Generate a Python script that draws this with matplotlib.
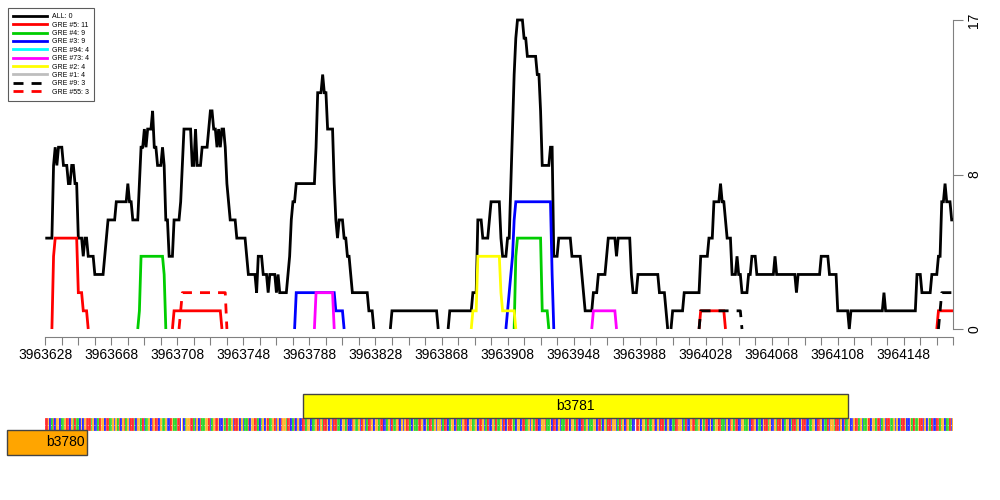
import numpy as np
import matplotlib
matplotlib.use("Agg")
import matplotlib.pyplot as plt
from matplotlib.patches import Rectangle
from matplotlib.lines import Line2D

plt.rcParams['font.family'] = ['Liberation Sans', 'DejaVu Sans']

# genome window
start_pos = 3963628
n_pos = 551          # offsets 0..550
label_step = 40
minor_step = 10

# site coverage tracks, run-length coded: value holds from start offset to next start
all_starts = [0, 5, 6, 7, 8, 11, 14, 16, 18, 20, 23, 24, 26, 30, 36, 37, 38, 43, 50, 51,
              53, 57, 58, 60, 61, 62, 65, 66, 68, 71, 72, 73, 75, 78, 82, 83, 84, 89, 91, 92,
              95, 99, 100, 102, 104, 105, 106, 107, 109, 110, 111, 112, 116, 122, 123, 128, 129, 132, 135, 136,
              140, 141, 142, 147, 148, 149, 150, 152, 164, 165, 168, 169, 171, 175, 176, 177, 178, 181, 183, 185,
              186, 196, 199, 200, 209, 210, 238, 239, 244, 245, 259, 262, 265, 269, 270, 276, 277, 280, 282, 283,
              284, 285, 286, 290, 292, 298, 300, 301, 306, 308, 311, 319, 325, 326, 327, 332, 335, 340, 341, 346,
              347, 355, 356, 359, 372, 376, 377, 378, 379, 380, 387, 397, 402, 405, 409, 410, 412, 413, 416, 419,
              420, 422, 426, 428, 431, 442, 443, 455, 456, 470, 475, 480, 487, 488, 508, 509, 528, 531, 537, 541,
              543, 545, 546, 549]
all_vals = [5, 9, 10, 9, 10, 9, 8, 9, 8, 5, 4, 5, 4, 3, 4, 5, 6, 7, 8, 7,
            6, 8, 10, 11, 10, 11, 12, 10, 9, 10, 9, 6, 4, 6, 7, 9, 11, 9, 11, 9,
            10, 11, 12, 11, 10, 11, 10, 11, 10, 8, 7, 6, 5, 4, 3, 2, 4, 3, 2, 3,
            2, 3, 2, 3, 4, 6, 7, 8, 10, 13, 14, 13, 11, 8, 6, 5, 6, 5, 4, 3,
            2, 1, 0, np.nan, 0, 1, 0, np.nan, 0, 1, 2, 6, 5, 6, 7, 5, 4, 5, 8, 11,
            14, 16, 17, 16, 15, 14, 12, 9, 10, 4, 5, 4, 3, 2, 1, 2, 3, 4, 5, 4,
            5, 3, 2, 3, 2, 1, 0, np.nan, 0, 1, 2, 4, 5, 7, 8, 7, 6, 5, 3, 4,
            3, 2, 3, 4, 3, 4, 3, 2, 3, 4, 3, 1, 0, 1, 2, 1, 3, 2, 3, 4,
            7, 8, 7, 6]

gre5_starts = [4, 5, 6, 20, 23, 26, 27, 77, 78, 107, 108, 396, 397, 412, 413, 540, 541]
gre5_vals = [0, 4, 5, 2, 1, 0, np.nan, 0, 1, 0, np.nan, 0, 1, 0, np.nan, 0, 1]

gre4_starts = [56, 57, 58, 72, 73, 74, 284, 285, 286, 301, 305, 306]
gre4_vals = [0, 1, 4, 3, 0, np.nan, 0, 4, 5, 1, 0, np.nan]

gre3_starts = [151, 152, 176, 181, 182, 279, 280, 281, 282, 283, 284, 285, 307, 308, 309]
gre3_vals = [0, 2, 1, 0, np.nan, 0, 1, 2, 3, 4, 6, 7, 3, 0, np.nan]

gre94_starts = []
gre94_vals = []

gre73_starts = [163, 164, 175, 176, 331, 332, 346, 347]
gre73_vals = [0, 2, 0, np.nan, 0, 1, 0, np.nan]

gre2_starts = [258, 259, 262, 276, 277, 285, 286]
gre2_vals = [0, 1, 4, 2, 1, 0, np.nan]

gre1_starts = []
gre1_vals = []

gre9_starts = [396, 397, 422, 423, 541, 542, 543]
gre9_vals = [0, 1, 0, np.nan, 0, 1, 2]

gre55_starts = [81, 82, 83, 110, 111]
gre55_vals = [0, 1, 2, 0, np.nan]

series_labels = ["ALL: 0", "GRE #5: 11", "GRE #4: 9", "GRE #3: 9", "GRE #94: 4",
                 "GRE #73: 4", "GRE #2: 4", "GRE #1: 4", "GRE #9: 3", "GRE #55: 3"]
series_colors = ["black", "#FF0000", "#00CD00", "#0000FF", "#00FFFF",
                 "#FF00FF", "#FFFF00", "#BEBEBE", "black", "#FF0000"]
dash = (0, (3.6, 2.9))
series_styles = ["-", "-", "-", "-", "-", "-", "-", "-", dash, dash]
series_runs = [(all_starts, all_vals), (gre5_starts, gre5_vals), (gre4_starts, gre4_vals),
               (gre3_starts, gre3_vals), (gre94_starts, gre94_vals), (gre73_starts, gre73_vals),
               (gre2_starts, gre2_vals), (gre1_starts, gre1_vals), (gre9_starts, gre9_vals),
               (gre55_starts, gre55_vals)]

y_max = 17
y_ticks = [0, 8.5, 17]
y_ticklabels = ["0", "8", "17"]

# genes
gene_names = ["b3781", "b3780"]
gene_start = [3963784, 3963605]
gene_end = [3964114, 3963653]
gene_strand = ["+", "-"]
gene_colors = ["#FFFF00", "#FFA500"]

seq = ("TTGCATCGGCAAGTTCGATAACGCGTTTAGCCATGGCTTAAGCGATCGTA"
       "GCTTACGGATCAAGCTGTTCGAAGCCTGAATTCGCAGGTTACGCTAAGGT"
       "CAGTTGCCGATAAGCTTGCGCAATCGGTTACAGCGTAAGTCGCTGGATTC"
       "ATCGCCTTAGGCAAGTCGATTGCGCTTAACGGATCCTGAAGCTGCATTGC"
       "GGATTCCAGCTAAGTCGCGTTACGAATTGCCGATTAGCGGCATTCAGGCT"
       "AACGTTCGGAAGCTTGCATCCGATAAGCTCGTTGACGGCTTAAGCGATTC"
       "CGGTAAGCTTCGCAATTGCGGATCCTTAGCAAGGCTTACGATTCGGCATA"
       "GCTGAACCTTGCGGATAAGTCGCTTACGCCAATTGGCATCCGTTAAGCGA"
       "TTCGCAGGTTAACGCTGATTCCGGAAGCTTGCAACGTTAGCCGATTGCAG"
       "GCATTAGCGTTCCAAGGCTTGCAATCGGATTCGCTAAGCCGTTAGCAAGT"
       "CGGATTCAGCTTAAGCGCATTGCCGATAAGTTCGCGATCCTTAGGCAATC"
       "GATCGGTTAAGCTTGCA")
base_colors = {"A": "#00CD00", "C": "#0000FF", "G": "#FFA500", "T": "#FF0000"}


def expand(starts, vals):
    y = np.full(n_pos, np.nan)
    bounds = list(starts) + [n_pos]
    for k, v in enumerate(vals):
        y[bounds[k]:bounds[k + 1]] = v
    return y


positions = start_pos + np.arange(n_pos)
x_end = start_pos + n_pos - 1

fig = plt.figure(figsize=(10, 5), dpi=100)
ax = fig.add_axes([0.0453, 0.342, 0.908, 0.618])

handles = []
for (st, vl), lab, col, ls in zip(series_runs, series_labels, series_colors, series_styles):
    y = expand(st, vl)
    ax.plot(positions, y, color=col, lw=2.0, linestyle=ls, clip_on=False,
            solid_joinstyle="miter", solid_capstyle="butt")
    handles.append(Line2D([], [], color=col, lw=2.0, linestyle=ls))

ax.set_xlim(start_pos, x_end)
ax.set_ylim(0, y_max)
for s in ["left", "top"]:
    ax.spines[s].set_visible(False)
ax.spines["bottom"].set_position(("outward", 6))
ax.spines["bottom"].set_color("#808080")
ax.spines["right"].set_color("#808080")

xt = np.arange(start_pos, x_end + 1, minor_step)
ax.set_xticks(xt)
ax.set_xticklabels([str(v) if (v - start_pos) % label_step == 0 else "" for v in xt])
ax.tick_params(axis="x", length=6, color="#808080", labelsize=10, pad=2)

ax.yaxis.tick_right()
ax.set_yticks(y_ticks)
ax.set_yticklabels(y_ticklabels, rotation=90, va="center")
ax.tick_params(axis="y", length=7, color="#808080", labelsize=10, pad=3)

leg = fig.legend(handles, series_labels, loc="upper left", bbox_to_anchor=(0.008, 0.984),
                 fontsize=5, frameon=True, fancybox=False, edgecolor="#333333",
                 handlelength=4.8, handletextpad=0.8, labelspacing=0.2,
                 borderpad=0.75, borderaxespad=0)
leg.get_frame().set_linewidth(0.8)

# gene / sequence track
gax = fig.add_axes([0.0453, 0.08, 0.908, 0.14])
gax.set_xlim(start_pos, x_end)
gax.set_ylim(0, 70)
gax.axis("off")

bases = seq[:n_pos]
gax.bar(positions[:len(bases)], 13, bottom=29, width=1.0,
        color=[base_colors[b] for b in bases], edgecolor="white", linewidth=0.15, alpha=0.9)
gax.plot([start_pos - 0.5, x_end + 0.5], [35.5, 35.5], color="white", lw=0.6,
         linestyle=(0, (1, 3)), alpha=0.8)

for name, s, e, strand, col in zip(gene_names, gene_start, gene_end, gene_strand, gene_colors):
    y0, h = (42, 24) if strand == "+" else (5, 25)
    gax.add_patch(Rectangle((s, y0), e - s, h, facecolor=col, edgecolor="#444444",
                            lw=1.0, clip_on=False))
    xc = (max(s, start_pos) + e) / 2
    gax.text(xc, y0 + h / 2, name, ha="center", va="center", fontsize=10)

fig.savefig("out.png", dpi=100)
